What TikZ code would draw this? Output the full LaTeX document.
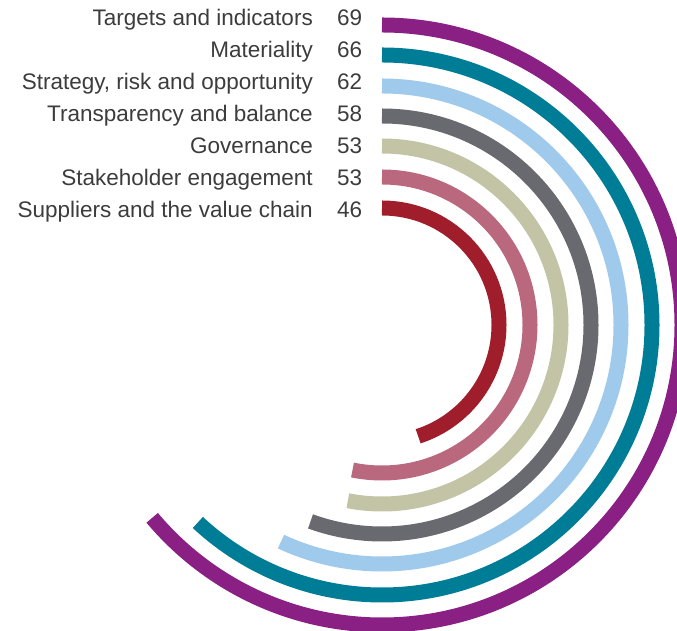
\documentclass[tikz,border=0pt]{standalone}
\usepackage{fontspec}
\setmainfont{Liberation Sans}
\definecolor{cPurple}{RGB}{138,32,132}
\definecolor{cTeal}{RGB}{0,125,150}
\definecolor{cLblue}{RGB}{160,202,236}
\definecolor{cGray}{RGB}{105,106,112}
\definecolor{cBeige}{RGB}{195,195,166}
\definecolor{cPink}{RGB}{185,104,125}
\definecolor{cRed}{RGB}{160,30,44}
\definecolor{cText}{RGB}{60,60,60}
\tikzset{
  lbl/.style={anchor=base east, inner sep=0pt, text=cText, font=\fontsize{22.5}{27}\selectfont},
  num/.style={anchor=base west, inner sep=0pt, text=cText, font=\fontsize{22.5}{27}\selectfont},
  ring/.style={line width=15pt, line cap=butt}
}
\begin{document}
\begin{tikzpicture}[x=1pt,y=1pt]
\useasboundingbox (0,0) rectangle (677,631);
\coordinate (c) at (382,306);
% labels
\node[lbl] (l1) at (313,605) {Targets and indicators};
\node[lbl] (l2) at (313,573) {Materiality};
\node[lbl] (l3) at (313,541) {Strategy, risk and opportunity};
\node[lbl] (l4) at (313,509) {Transparency and balance};
\node[lbl] (l5) at (313,477) {Governance};
\node[lbl] (l6) at (313,445) {Stakeholder engagement};
\node[lbl] (l7) at (313,413) {Suppliers and the value chain};
\node[num] (n1) at (337,605) {69};
\node[num] (n2) at (337,573) {66};
\node[num] (n3) at (337,541) {62};
\node[num] (n4) at (337,509) {58};
\node[num] (n5) at (337,477) {53};
\node[num] (n6) at (337,445) {53};
\node[num] (n7) at (337,413) {46};
% rings
\draw[ring, cPurple] (c) ++(90:300pt) arc[start angle=90, end angle=-140, radius=300pt];
\draw[ring, cTeal]   (c) ++(90:270pt) arc[start angle=90, end angle=-133, radius=270pt];
\draw[ring, cLblue]  (c) ++(90:239pt) arc[start angle=90, end angle=-115, radius=239pt];
\draw[ring, cGray]   (c) ++(90:209pt) arc[start angle=90, end angle=-110, radius=209pt];
\draw[ring, cBeige]  (c) ++(90:179pt) arc[start angle=90, end angle=-101, radius=179pt];
\draw[ring, cPink]   (c) ++(90:148pt) arc[start angle=90, end angle=-101.5, radius=148pt];
\draw[ring, cRed]    (c) ++(90:117pt) arc[start angle=90, end angle=-72, radius=117pt];
\end{tikzpicture}
\end{document}
